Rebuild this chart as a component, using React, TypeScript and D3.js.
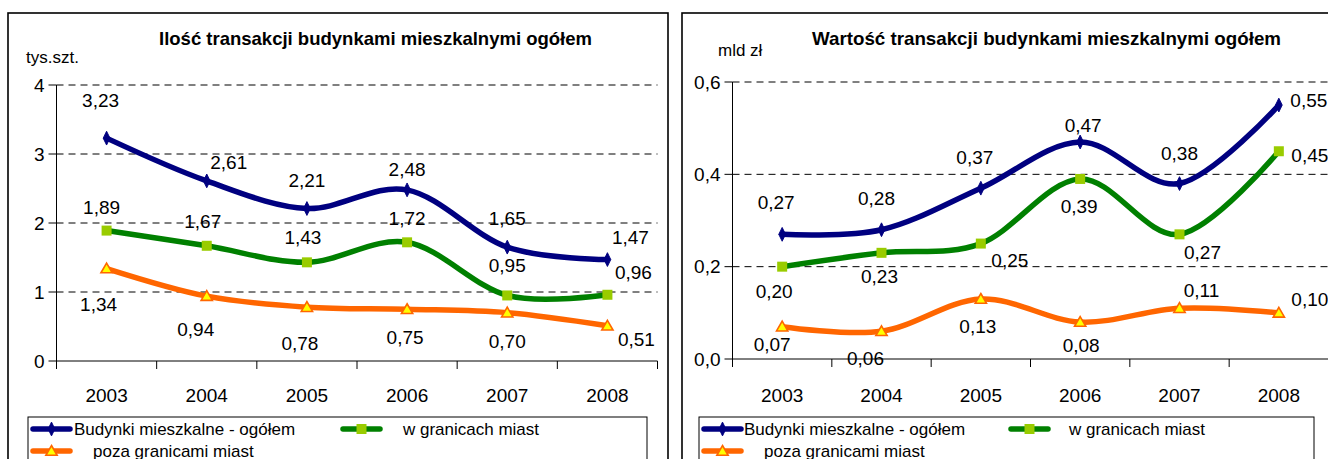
import React from "react";
import * as d3 from "d3";

const years = ["2003", "2004", "2005", "2006", "2007", "2008"];

const countTotal = [3.23, 2.61, 2.21, 2.48, 1.65, 1.47];
const countCity = [1.89, 1.67, 1.43, 1.72, 0.95, 0.96];
const countOutside = [1.34, 0.94, 0.78, 0.75, 0.7, 0.51];
const countTicks = [0, 1, 2, 3, 4];

const valueTotal = [0.27, 0.28, 0.37, 0.47, 0.38, 0.55];
const valueCity = [0.2, 0.23, 0.25, 0.39, 0.27, 0.45];
const valueOutside = [0.07, 0.06, 0.13, 0.08, 0.11, 0.1];
const valueTicks = [0, 0.2, 0.4, 0.6];

const seriesNames = ["Budynki mieszkalne - ogółem", "w granicach miast", "poza granicami miast"];

const FONT = "'Liberation Sans', Arial, sans-serif";
const COLORS = ["#000080", "#008000", "#FF6600"];

type Off = [number, number][];

interface ChartCfg {
  title: string;
  titleX: number;
  titleW: number;
  unit: string;
  unitX: number;
  unitY: number;
  border: { x: number; y: number; w: number };
  plot: { x0: number; x1: number; yTop: number; yBottom: number };
  domain: [number, number];
  ticks: number[];
  tickFmt: (v: number) => string;
  series: number[][];
  offsets: Off[];
  legend: { x: number; w: number; lineX: number; lineX2: number; textX: number; text2X: number; row3TextX: number };
}

const fmt2 = (v: number) => v.toFixed(2).replace(".", ",");

const leftCfg: ChartCfg = {
  title: "Ilość transakcji budynkami mieszkalnymi ogółem",
  titleX: 159,
  titleW: 433,
  unit: "tys.szt.",
  unitX: 26,
  unitY: 57,
  border: { x: 8, y: 13, w: 660 },
  plot: { x0: 56.5, x1: 657.5, yTop: 85, yBottom: 361 },
  domain: [0, 4],
  ticks: countTicks,
  tickFmt: (v) => String(v),
  series: [countTotal, countCity, countOutside],
  offsets: [
    [[-6, -38], [22, -18], [0, -28], [0, -20], [0, -29], [23, -22]],
    [[-5, -23], [-4, -24], [-4, -25], [0, -24], [0, -30], [26, -22]],
    [[-8, 36], [-11, 33], [-7, 36], [-2, 28], [0, 29], [29, 14]],
  ],
  legend: { x: 28, w: 619, lineX: 33, lineX2: 343, textX: 74, text2X: 403, row3TextX: 93 },
};

const rightCfg: ChartCfg = {
  title: "Wartość transakcji budynkami mieszkalnymi ogółem",
  titleX: 812,
  titleW: 469,
  unit: "mld zł",
  unitX: 718,
  unitY: 50,
  border: { x: 682, y: 13, w: 700 },
  plot: { x0: 732.5, x1: 1328.5, yTop: 82, yBottom: 359 },
  domain: [0, 0.6],
  ticks: valueTicks,
  tickFmt: (v) => v.toFixed(1).replace(".", ","),
  series: [valueTotal, valueCity, valueOutside],
  offsets: [
    [[-6, -32], [-5, -31], [-6, -31], [3, -17], [0, -30], [30, -5]],
    [[-8, 25], [-2, 24], [29, 17], [-1, 28], [23, 18], [31, 4]],
    [[-10, 18], [-16, 27], [-3, 28], [1, 23], [22, -18], [31, -13]],
  ],
  legend: { x: 699, w: 615, lineX: 704, lineX2: 1011, textX: 744, text2X: 1069, row3TextX: 764 },
};

function Marker({ kind, x, y }: { kind: number; x: number; y: number }) {
  if (kind === 0) {
    const p = d3.symbol().type(d3.symbolDiamond).size(55)();
    return <path d={p || ""} transform={`translate(${x},${y}) scale(0.85,1)`} fill="#000080" stroke="#000080" strokeWidth={1} />;
  }
  if (kind === 1) {
    const p = d3.symbol().type(d3.symbolSquare).size(100)();
    return <path d={p || ""} transform={`translate(${x},${y})`} fill="#99CC00" />;
  }
  const p = d3.symbol().type(d3.symbolTriangle).size(55)();
  return <path d={p || ""} transform={`translate(${x},${y + 1})`} fill="#FFFF00" stroke="#FF6600" strokeWidth={1.6} />;
}

function Chart({ cfg }: { cfg: ChartCfg }) {
  const { plot } = cfg;
  const x = d3.scaleBand<string>().domain(years).range([plot.x0, plot.x1]);
  const y = d3.scaleLinear().domain(cfg.domain).range([plot.yBottom, plot.yTop]);
  const line = d3
    .line<number>()
    .x((_, i) => (x(years[i]) as number) + x.bandwidth() / 2)
    .y((d) => y(d))
    .curve(d3.curveCardinal.tension(0));
  const cx = (i: number) => (x(years[i]) as number) + x.bandwidth() / 2;
  const lg = cfg.legend;
  const row1 = 429;
  const row3 = 451;
  return (
    <g>
      <rect x={cfg.border.x} y={cfg.border.y} width={cfg.border.w} height={500} fill="#fff" stroke="#000" strokeWidth={1.6} />
      <text x={cfg.titleX} y={38} dominantBaseline="central" fontFamily={FONT} fontWeight="bold" fontSize={18.5} textLength={cfg.titleW} lengthAdjust="spacingAndGlyphs">
        {cfg.title}
      </text>
      <text x={cfg.unitX} y={cfg.unitY} dominantBaseline="central" fontFamily={FONT} fontSize={17}>
        {cfg.unit}
      </text>
      {cfg.ticks.filter((t) => t !== cfg.domain[0]).map((t) => (
        <line key={"g" + t} x1={plot.x0} x2={plot.x1} y1={y(t)} y2={y(t)} stroke="#000" strokeWidth={1} strokeDasharray="7,5" />
      ))}
      <line x1={plot.x0} x2={plot.x0} y1={y(cfg.domain[1])} y2={y(cfg.domain[0])} stroke="#000" strokeWidth={1} />
      <line x1={plot.x0} x2={plot.x1} y1={y(cfg.domain[0])} y2={y(cfg.domain[0])} stroke="#000" strokeWidth={1} />
      {cfg.ticks.map((t) => (
        <g key={"t" + t}>
          <line x1={plot.x0 - 8} x2={plot.x0} y1={y(t)} y2={y(t)} stroke="#000" strokeWidth={1} />
          <text x={plot.x0 - 12} y={y(t)} textAnchor="end" dominantBaseline="central" fontFamily={FONT} fontSize={19}>
            {cfg.tickFmt(t)}
          </text>
        </g>
      ))}
      {years.map((yr, i) => (
        <g key={yr}>
          <line x1={x(yr) as number} x2={x(yr) as number} y1={y(cfg.domain[0])} y2={y(cfg.domain[0]) + 8} stroke="#000" strokeWidth={1} />
          <text x={cx(i)} y={395} textAnchor="middle" dominantBaseline="central" fontFamily={FONT} fontSize={19}>
            {yr}
          </text>
        </g>
      ))}
      <line x1={plot.x1} x2={plot.x1} y1={y(cfg.domain[0])} y2={y(cfg.domain[0]) + 8} stroke="#000" strokeWidth={1} />
      {cfg.series.map((s, si) => (
        <path key={"l" + si} d={line(s) || ""} fill="none" stroke={COLORS[si]} strokeWidth={5.5} strokeLinejoin="round" />
      ))}
      {cfg.series.map((s, si) => s.map((v, i) => <Marker key={`m${si}-${i}`} kind={si} x={cx(i)} y={y(v)} />))}
      {cfg.series.map((s, si) =>
        s.map((v, i) => (
          <text
            key={`d${si}-${i}`}
            x={cx(i) + cfg.offsets[si][i][0]}
            y={y(v) + cfg.offsets[si][i][1]}
            textAnchor="middle"
            dominantBaseline="central"
            fontFamily={FONT}
            fontSize={19}
          >
            {fmt2(v)}
          </text>
        ))
      )}
      <rect x={lg.x} y={417} width={lg.w} height={60} fill="#fff" stroke="#000" strokeWidth={1} />
      {[
        { lx: lg.lineX, ly: row1, tx: lg.textX },
        { lx: lg.lineX2, ly: row1, tx: lg.text2X },
        { lx: lg.lineX, ly: row3, tx: lg.row3TextX },
      ].map((e, si) => (
        <g key={"lg" + si}>
          <line x1={e.lx} x2={e.lx + 37} y1={e.ly} y2={e.ly} stroke={COLORS[si]} strokeWidth={5.5} strokeLinecap="round" />
          <Marker kind={si} x={e.lx + 18.5} y={e.ly} />
          <text x={e.tx} y={e.ly} dominantBaseline="central" fontFamily={FONT} fontSize={17}>
            {seriesNames[si]}
          </text>
        </g>
      ))}
    </g>
  );
}

export default function App() {
  return (
    <div style={{ position: "absolute", left: 0, top: 0 }}>
      <svg width={1328} height={459} style={{ display: "block", background: "#fff" }}>
        <rect x={0} y={0} width={1328} height={459} fill="#fff" />
        <Chart cfg={leftCfg} />
        <Chart cfg={rightCfg} />
      </svg>
    </div>
  );
}
